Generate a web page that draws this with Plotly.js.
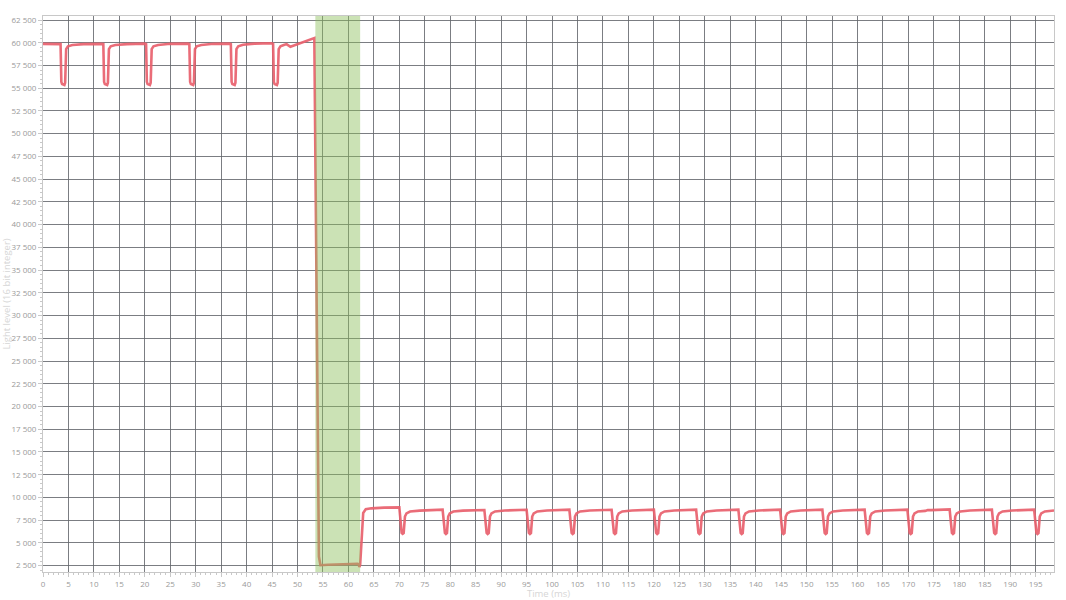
<!DOCTYPE html>
<html>
<head>
<meta charset="utf-8">
<script src="https://cdn.plot.ly/plotly-3.0.1.min.js"></script>
<style>html,body{margin:0;padding:0;background:#fff;}#chart{width:1066px;height:600px;}</style>
</head>
<body>
<div id="chart"></div>
<script>
// Time in ms
const timeMs = [
  0, 3.2, 3.45, 3.6, 3.75, 4.2, 4.35, 4.55, 4.9, 5.8, 8,
  11.6, 11.85, 12.0, 12.15, 12.6, 12.75, 12.95, 13.3, 14.2, 16.5,
  20.0, 20.25, 20.4, 20.55, 21.0, 21.15, 21.35, 21.7, 22.6, 25,
  28.5, 28.75, 28.9, 29.05, 29.5, 29.65, 29.85, 30.2, 31.1, 33.5,
  36.65, 36.9, 37.05, 37.2, 37.65, 37.8, 38.0, 38.35, 39.3, 41.5,
  44.95, 45.2, 45.35, 45.5, 45.95, 46.1, 46.3, 46.65, 47.3, 47.85, 48.6, 53.3,
  54.2, 54.5, 56, 58, 61.8, 62.0, 62.15, 62.3, 62.9, 63.4, 64.5, 67, 69.9,
  70.0, 70.45, 70.65, 70.85, 71.1, 71.4, 72.1, 74, 78.45,
  78.5, 78.95, 79.15, 79.35, 79.6, 79.9, 80.6, 82.5, 86.65,
  86.7, 87.15, 87.35, 87.55, 87.8, 88.1, 88.8, 90.7, 94.95,
  95.0, 95.45, 95.65, 95.85, 96.1, 96.4, 97.1, 99, 103.35,
  103.4, 103.85, 104.05, 104.25, 104.5, 104.8, 105.5, 107.4, 111.65,
  111.7, 112.15, 112.35, 112.55, 112.8, 113.1, 113.8, 115.7, 119.95,
  120.0, 120.45, 120.65, 120.85, 121.1, 121.4, 122.1, 124, 128.25,
  128.3, 128.75, 128.95, 129.15, 129.4, 129.7, 130.4, 132.3, 136.55,
  136.6, 137.05, 137.25, 137.45, 137.7, 138.0, 138.7, 140.6, 144.75,
  144.8, 145.25, 145.45, 145.65, 145.9, 146.2, 146.9, 148.8, 153.05,
  153.1, 153.55, 153.75, 153.95, 154.2, 154.5, 155.2, 157.1, 161.35,
  161.4, 161.85, 162.05, 162.25, 162.5, 162.8, 163.5, 165.4, 169.75,
  169.8, 170.25, 170.45, 170.65, 170.9, 171.2, 171.9, 173.3, 173.8, 174.5, 178.05,
  178.1, 178.55, 178.75, 178.95, 179.2, 179.5, 180.2, 182.1, 186.35,
  186.4, 186.85, 187.05, 187.25, 187.5, 187.8, 188.5, 190.4, 194.65,
  194.7, 195.15, 195.35, 195.55, 195.8, 196.1, 196.8, 198.6
];
// Light level (16 bit integer)
const lightLevel = [
  59880, 59900, 59850, 55700, 55450, 55350, 55600, 59300, 59600, 59750, 59850,
  59880, 59850, 55700, 55450, 55350, 55600, 59300, 59600, 59750, 59850,
  59900, 59850, 55700, 55450, 55350, 55600, 59300, 59600, 59750, 59880,
  59900, 59850, 55700, 55450, 55350, 55600, 59300, 59600, 59750, 59880,
  59900, 59850, 55700, 55450, 55350, 55600, 59300, 59600, 59780, 59900,
  59950, 59880, 55700, 55450, 55350, 55600, 59300, 59600, 59750, 59850, 59550, 60520,
  3500, 2550, 2600, 2650, 2700, 2650, 2350, 2600, 8300, 8700, 8800, 8880, 8950,
  8900, 6100, 6000, 6080, 7900, 8250, 8450, 8550, 8620,
  8650, 6100, 5980, 6080, 7900, 8250, 8450, 8550, 8620,
  8620, 6100, 5990, 6080, 7900, 8250, 8460, 8560, 8640,
  8640, 6100, 5980, 6080, 7900, 8250, 8460, 8560, 8650,
  8650, 6100, 5990, 6080, 7900, 8250, 8460, 8560, 8640,
  8640, 6100, 5980, 6080, 7900, 8250, 8460, 8560, 8650,
  8650, 6100, 5990, 6080, 7900, 8250, 8460, 8560, 8650,
  8650, 6100, 5980, 6080, 7900, 8250, 8460, 8560, 8660,
  8660, 6100, 5990, 6080, 7900, 8250, 8460, 8560, 8660,
  8660, 6100, 5980, 6080, 7900, 8250, 8460, 8560, 8650,
  8650, 6100, 5990, 6080, 7900, 8250, 8460, 8560, 8660,
  8660, 6100, 5980, 6080, 7900, 8250, 8460, 8560, 8650,
  8650, 6100, 5990, 6080, 7900, 8250, 8460, 8520, 8620, 8600, 8680,
  8680, 6100, 5980, 6080, 7900, 8250, 8460, 8560, 8660,
  8660, 6100, 5990, 6080, 7900, 8250, 8460, 8560, 8660,
  8660, 6100, 5980, 6080, 7900, 8250, 8460, 8560
];
// Highlighted time window (ms)
const highlightStart = 53.5;
const highlightEnd = 62.3;

const axisFont = {family: 'Open Sans, sans-serif', size: 8, color: '#9a9a9a'};
const titleFont = {family: 'Open Sans, sans-serif', size: 9.5, color: '#d6d6d6'};

Plotly.newPlot('chart', [{
  x: timeMs,
  y: lightLevel,
  type: 'scatter',
  mode: 'lines',
  line: {color: 'rgba(232,96,108,0.92)', width: 2.6},
  hoverinfo: 'x+y'
}], {
  width: 1066,
  height: 600,
  margin: {l: 43, r: 12, t: 16, b: 28, pad: 0},
  paper_bgcolor: '#ffffff',
  plot_bgcolor: '#ffffff',
  separators: '. ',
  showlegend: false,
  xaxis: {
    range: [0, 198.6],
    dtick: 5,
    tick0: 0,
    tickformat: ',d',
    showgrid: true,
    gridcolor: 'rgba(100,102,108,0.85)',
    gridwidth: 1.3,
    zeroline: false,
    showline: true,
    linecolor: '#c8c8c8',
    linewidth: 1,
    mirror: true,
    ticks: 'outside',
    ticklen: 4,
    tickcolor: '#c8c8c8',
    tickfont: axisFont,
    minor: {dtick: 1, ticks: 'outside', ticklen: 2, tickcolor: '#c8c8c8', showgrid: false},
    title: {text: 'Time (ms)', font: titleFont, standoff: 2}
  },
  yaxis: {
    range: [1800, 62940],
    dtick: 2500,
    tick0: 0,
    tickformat: ',d',
    showgrid: true,
    gridcolor: 'rgba(100,102,108,0.85)',
    gridwidth: 1.3,
    zeroline: false,
    showline: true,
    linecolor: '#c8c8c8',
    linewidth: 1,
    mirror: true,
    ticks: 'outside',
    ticklen: 4,
    tickcolor: '#c8c8c8',
    tickfont: axisFont,
    minor: {dtick: 500, ticks: 'outside', ticklen: 2, tickcolor: '#c8c8c8', showgrid: false},
    title: {text: 'Light level (16 bit integer)', font: titleFont, standoff: 3}
  },
  shapes: [{
    type: 'rect',
    xref: 'x',
    yref: 'paper',
    x0: highlightStart,
    x1: highlightEnd,
    y0: 0,
    y1: 1,
    fillcolor: 'rgba(140,190,90,0.45)',
    line: {width: 0},
    layer: 'above'
  }]
}, {displayModeBar: false});
</script>
</body>
</html>
